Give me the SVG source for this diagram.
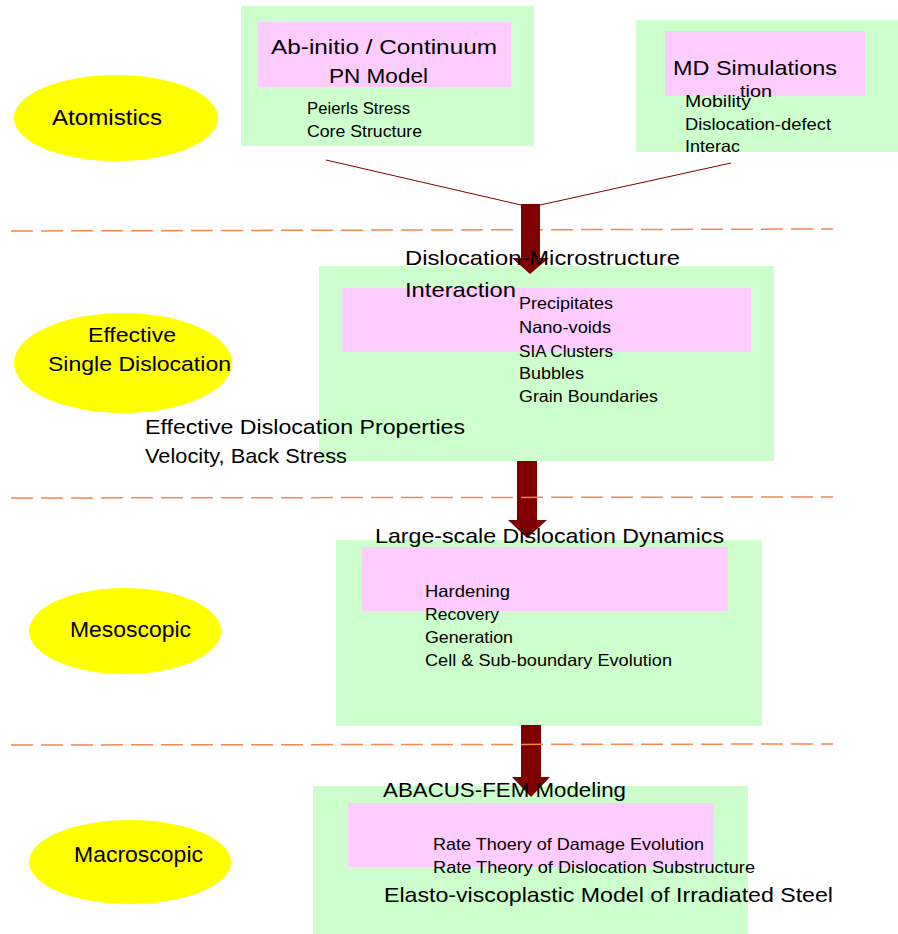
<svg xmlns="http://www.w3.org/2000/svg" width="898" height="934" viewBox="0 0 898 934">
<defs>
<style>
.bg{fill:#ffffff}
.green{fill:#ccffcc}
.pink{fill:#ffccff}
.ell{fill:#ffff00}
.sep{stroke:#f4874b;stroke-width:1.5;stroke-dasharray:22 8;fill:none}
.thin{stroke:#800000;stroke-width:1;fill:none}
.arrow{fill:#800000}
text{font-family:"Liberation Sans",Arial,sans-serif;fill:#000000}
.big{font-size:21px}
.lab{font-size:22px}
.sm{font-size:16.5px}
.xs{font-size:14px}
</style>
</defs>
<rect class="bg" x="0" y="0" width="898" height="934"/>

<g id="separator-1">
<line class="sep" x1="11" y1="231" x2="833" y2="229"/>
</g>

<g id="level-atomistics">
<ellipse class="ell" cx="116" cy="118" rx="102" ry="43"/>
<text class="lab" x="52" y="125" textLength="110" lengthAdjust="spacingAndGlyphs">Atomistics</text>
</g>
<g id="level-effective">
<ellipse class="ell" cx="123" cy="363" rx="109" ry="50"/>
<text class="big" x="88" y="342" textLength="88" lengthAdjust="spacingAndGlyphs">Effective</text>
<text class="big" x="48" y="371" textLength="183" lengthAdjust="spacingAndGlyphs">Single Dislocation</text>
</g>
<g id="level-mesoscopic">
<ellipse class="ell" cx="125" cy="631" rx="96" ry="43"/>
<text class="lab" x="70" y="637" textLength="121" lengthAdjust="spacingAndGlyphs">Mesoscopic</text>
</g>
<g id="level-macroscopic">
<ellipse class="ell" cx="130" cy="862" rx="101" ry="42"/>
<text class="lab" x="74" y="862" textLength="129" lengthAdjust="spacingAndGlyphs">Macroscopic</text>
</g>

<g id="node-abinitio">
<rect class="green" x="241" y="6" width="293" height="140"/>
<rect class="pink" x="258" y="22" width="253" height="65"/>
<text class="big" x="271" y="54" textLength="226" lengthAdjust="spacingAndGlyphs">Ab-initio / Continuum</text>
<text class="big" x="329" y="83" textLength="99" lengthAdjust="spacingAndGlyphs">PN Model</text>
<text class="sm" x="307" y="114" textLength="103" lengthAdjust="spacingAndGlyphs">Peierls Stress</text>
<text class="sm" x="307" y="137" textLength="115" lengthAdjust="spacingAndGlyphs">Core Structure</text>
</g>

<g id="node-md">
<rect class="green" x="636" y="20" width="262" height="132"/>
<rect class="pink" x="665" y="31" width="200" height="65"/>
<text class="big" x="673" y="75" textLength="164" lengthAdjust="spacingAndGlyphs">MD Simulations</text>
<text class="sm" x="740" y="97" textLength="32" lengthAdjust="spacingAndGlyphs">tion</text>
<text class="sm" x="685" y="107" textLength="66" lengthAdjust="spacingAndGlyphs">Mobility</text>
<text class="sm" x="685" y="130" textLength="146" lengthAdjust="spacingAndGlyphs">Dislocation-defect</text>
<text class="sm" x="685" y="152" textLength="55" lengthAdjust="spacingAndGlyphs">Interac</text>
</g>

<g id="node-microstructure">
<rect class="green" x="319" y="266" width="455" height="195"/>
<rect class="pink" x="342" y="288" width="409" height="64"/>
<text class="sm" x="519" y="309" textLength="94" lengthAdjust="spacingAndGlyphs">Precipitates</text>
<text class="sm" x="519" y="333" textLength="92" lengthAdjust="spacingAndGlyphs">Nano-voids</text>
<text class="sm" x="519" y="357" textLength="94" lengthAdjust="spacingAndGlyphs">SIA Clusters</text>
<text class="sm" x="519" y="379" textLength="65" lengthAdjust="spacingAndGlyphs">Bubbles</text>
<text class="sm" x="519" y="402" textLength="139" lengthAdjust="spacingAndGlyphs">Grain Boundaries</text>
<text class="big" x="145" y="434" textLength="320" lengthAdjust="spacingAndGlyphs">Effective Dislocation Properties</text>
<text class="big" x="145" y="463" textLength="202" lengthAdjust="spacingAndGlyphs">Velocity, Back Stress</text>
</g>

<g id="node-dd">
<rect class="green" x="336" y="540" width="426" height="186"/>
<rect class="pink" x="362" y="547" width="366" height="64"/>
<text class="sm" x="425" y="597" textLength="85" lengthAdjust="spacingAndGlyphs">Hardening</text>
<text class="sm" x="425" y="620" textLength="74" lengthAdjust="spacingAndGlyphs">Recovery</text>
<text class="sm" x="425" y="643" textLength="88" lengthAdjust="spacingAndGlyphs">Generation</text>
<text class="sm" x="425" y="666" textLength="247" lengthAdjust="spacingAndGlyphs">Cell &amp; Sub-boundary Evolution</text>
</g>

<g id="node-fem">
<rect class="green" x="313" y="786" width="435" height="148"/>
<rect class="pink" x="348" y="803" width="366" height="64"/>
<text class="sm" x="433" y="850" textLength="271" lengthAdjust="spacingAndGlyphs">Rate Thoery of Damage Evolution</text>
<text class="sm" x="433" y="873" textLength="322" lengthAdjust="spacingAndGlyphs">Rate Theory of Dislocation Substructure</text>
<text class="big" x="384" y="902" textLength="449" lengthAdjust="spacingAndGlyphs">Elasto-viscoplastic Model of Irradiated Steel</text>
</g>

<g id="connectors">
<line class="thin" x1="326" y1="160" x2="521" y2="205"/>
<line class="thin" x1="731" y1="163" x2="540" y2="205"/>
<polygon class="arrow" points="521,204 540,204 540,258 549,258 530,274 512,258 521,258"/>
<polygon class="arrow" points="517,461 537,461 537,520 547,520 527,538 508,520 517,520"/>
<polygon class="arrow" points="521,725 541,725 541,777 550,777 531,797 512,777 521,777"/>
</g>

<g id="separators">
<line class="sep" x1="11" y1="498" x2="833" y2="497"/>
<line class="sep" x1="11" y1="745" x2="833" y2="744"/>
</g>

<g id="titles">
<text class="big" x="405" y="265" textLength="275" lengthAdjust="spacingAndGlyphs">Dislocation-Microstructure</text>
<text class="big" x="405" y="297" textLength="111" lengthAdjust="spacingAndGlyphs">Interaction</text>
<text class="big" x="375" y="543" textLength="349" lengthAdjust="spacingAndGlyphs">Large-scale Dislocation Dynamics</text>
<text class="big" x="383" y="797" textLength="243" lengthAdjust="spacingAndGlyphs">ABACUS-FEM Modeling</text>
</g>
</svg>
